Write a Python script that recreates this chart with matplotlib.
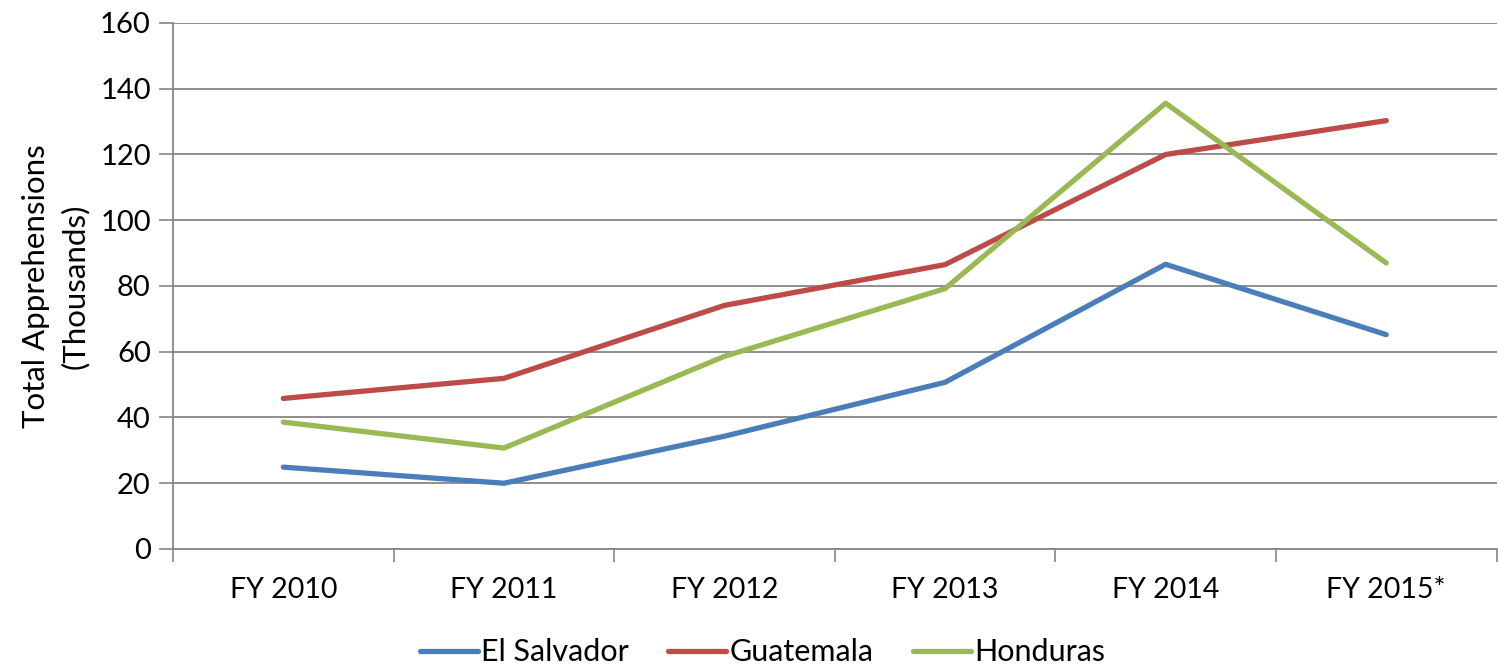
import matplotlib
matplotlib.use("Agg")
import matplotlib.pyplot as plt

categories = ["FY 2010", "FY 2011", "FY 2012", "FY 2013", "FY 2014", "FY 2015*"]
el_salvador = [24.9, 20.0, 34.3, 50.7, 86.6, 65.2]
guatemala = [45.8, 51.9, 74.1, 86.5, 120.0, 130.3]
honduras = [38.6, 30.7, 58.6, 79.2, 135.6, 87.0]
series_names = ["El Salvador", "Guatemala", "Honduras"]
colors = ["#4A7EBB", "#BE4B48", "#98B954"]
yticks = [0, 20, 40, 60, 80, 100, 120, 140, 160]

plt.rcParams['font.family'] = ['Lato', 'DejaVu Sans']

fig = plt.figure(figsize=(14.98, 6.64), dpi=100)
ax = fig.add_axes([0.1155, 0.1732, 0.8835, 0.7922])

x = list(range(len(categories)))
for vals, name, c in zip([el_salvador, guatemala, honduras], series_names, colors):
    ax.plot(x, vals, color=c, lw=3.8, label=name, solid_capstyle='round', solid_joinstyle='round', zorder=3)

ax.set_xlim(-0.5, len(categories) - 0.5)
ax.set_ylim(0, 160)
ax.set_yticks(yticks)
ax.set_yticklabels([str(v) for v in yticks], fontsize=21)
ax.set_xticks(x)
ax.set_xticklabels(categories, fontsize=20.5)
ax.tick_params(axis='x', length=0, pad=20)
# boundary ticks
ax.set_xticks([i - 0.5 for i in range(len(categories) + 1)], minor=True)
ax.tick_params(axis='x', which='minor', length=9, width=1.2, color='#868686', direction='out')
ax.tick_params(axis='y', length=10, width=1.2, color='#868686', direction='out', pad=6)

ax.grid(axis='y', color='#868686', lw=1.3, zorder=0)
for s in ['top', 'right']:
    ax.spines[s].set_visible(False)
for s in ['left', 'bottom']:
    ax.spines[s].set_color('#868686')
    ax.spines[s].set_linewidth(1.3)

ax.set_ylabel("Total Apprehensions\n(Thousands)", fontsize=22.5, labelpad=8, linespacing=1.45)

fig.legend(loc='lower center', ncol=3, frameon=False, fontsize=22,
           bbox_to_anchor=(0.509, -0.045), handlelength=1.9, handletextpad=0.1, columnspacing=1.3)

fig.savefig("out.png", dpi=100)
